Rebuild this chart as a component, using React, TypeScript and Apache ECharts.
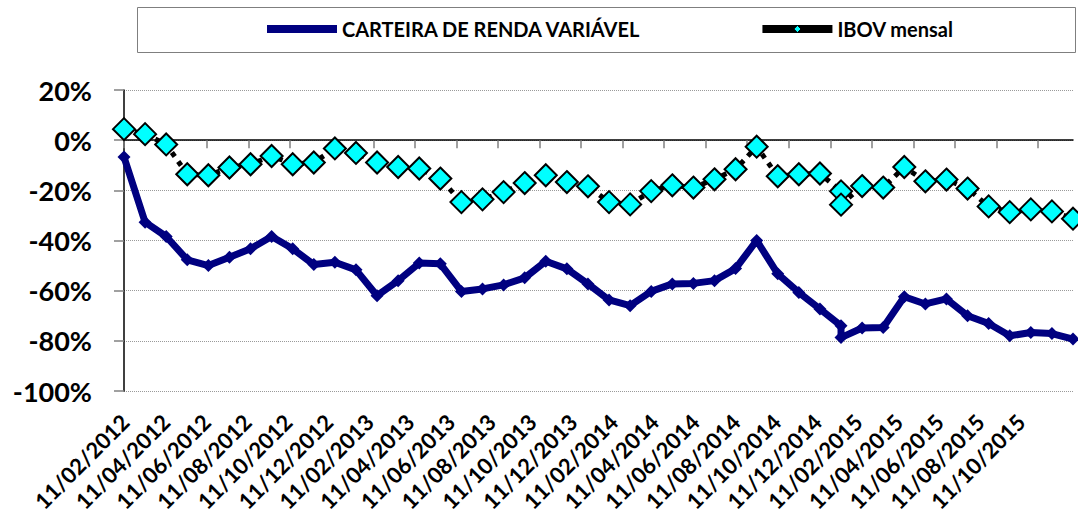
import React, { useEffect, useRef } from "react";
import * as echarts from "echarts";

// Monthly slots on the date axis: 02/2012 … 11/2015
const months: string[] = Array.from({ length: 46 }, (_, i) => {
  const m = ((1 + i) % 12) + 1;
  const y = 2012 + Math.floor((1 + i) / 12);
  return `${String(m).padStart(2, "0")}/${y}`;
});

// Month of each observation (December 2014 holds two observations)
const obsMonth: string[] = [...months.slice(0, 35), months[34], ...months.slice(35)];

const carteira: number[] = [
  -6.7, -32.7, -38.4, -47.7, -50.0, -46.7, -43.3, -38.4, -43.3, -49.6,
  -48.7, -51.7, -62.0, -56.0, -49.0, -49.3, -60.3, -59.3, -57.7, -54.9,
  -48.3, -51.3, -57.3, -63.7, -66.0, -60.3, -57.3, -57.1, -56.0, -51.2,
  -40.0, -53.3, -60.7, -67.3, -74.0, -78.7, -74.9, -74.7, -62.4, -65.3,
  -63.3, -70.0, -73.1, -78.0, -76.7, -77.1, -79.3,
];

const ibov: number[] = [
  4.4, 2.4, -1.7, -13.6, -14.0, -10.9, -9.6, -6.3, -9.6, -8.9,
  -3.3, -5.1, -8.9, -10.7, -11.3, -15.3, -24.7, -23.6, -20.7, -17.1,
  -14.0, -16.7, -18.4, -24.7, -25.6, -20.3, -18.0, -18.9, -15.6, -11.6,
  -2.6, -14.4, -13.6, -13.3, -20.4, -25.7, -18.3, -18.9, -10.7, -16.4,
  -15.7, -19.3, -26.4, -28.7, -27.6, -28.4, -31.3,
];

const tickLabels: string[] = [
  "11/02/2012", "11/04/2012", "11/06/2012", "11/08/2012", "11/10/2012", "11/12/2012",
  "11/02/2013", "11/04/2013", "11/06/2013", "11/08/2013", "11/10/2013", "11/12/2013",
  "11/02/2014", "11/04/2014", "11/06/2014", "11/08/2014", "11/10/2014", "11/12/2014",
  "11/02/2015", "11/04/2015", "11/06/2015", "11/08/2015", "11/10/2015",
];

const seriesNames = ["CARTEIRA DE RENDA VARIÁVEL", "IBOV mensal"];

const FONT = "Lato";

export default function App() {
  const ref = useRef<HTMLDivElement>(null);

  useEffect(() => {
    if (!ref.current) return;
    const chart = echarts.init(ref.current, undefined, { renderer: "svg" });
    const tickIdx = tickLabels.map((_, i) => i);

    chart.setOption({
      animation: false,
      backgroundColor: "#ffffff",
      grid: {
        left: 124,
        right: 5,
        top: 90,
        bottom: 123,
        containLabel: false,
        outerBoundsMode: "none",
      },
      graphic: [
        {
          type: "rect",
          shape: { x: 137.5, y: 7.5, width: 938, height: 45 },
          style: { fill: "#ffffff", stroke: "#7f7f7f", lineWidth: 1 },
          z: -1,
        },
      ],
      legend: {
        data: [
          {
            name: seriesNames[0],
            lineStyle: { width: 8, type: "solid" },
          },
          {
            name: seriesNames[1],
            itemStyle: { borderWidth: 1 },
            lineStyle: { width: 8, type: "solid", color: "#000" },
          },
        ],
        left: 263,
        top: 19,
        padding: 0,
        itemWidth: 70,
        itemHeight: 9,
        itemGap: 117,
        textStyle: { fontFamily: FONT, fontWeight: "bold", fontSize: 20, color: "#000" },
      },
      xAxis: [
        {
          type: "category",
          data: months,
          boundaryGap: false,
          show: false,
          axisLine: { onZero: false },
        },
        {
          type: "value",
          min: 0,
          max: 22.84,
          position: "bottom",
          axisLine: { show: true, onZero: true, lineStyle: { color: "#000", width: 1.5 } },
          axisTick: {
            show: true,
            length: 8,
            customValues: tickIdx,
            lineStyle: { color: "#808080", width: 1.5 },
          },
          axisLabel: { show: false },
          splitLine: { show: false },
        },
        {
          type: "value",
          min: -0.025,
          max: 23.275,
          position: "bottom",
          axisLine: { show: false, onZero: false },
          axisTick: { show: false },
          splitLine: { show: false },
          axisLabel: {
            show: true,
            customValues: tickIdx,
            formatter: (v: number) => tickLabels[Math.round(v)] ?? "",
            rotate: 45,
            margin: 27,
            fontFamily: FONT,
            fontWeight: "bold",
            fontSize: 22,
            color: "#000",
          },
        },
      ],
      yAxis: {
        type: "value",
        min: -100,
        max: 20,
        interval: 20,
        axisLine: { show: true, onZero: false, lineStyle: { color: "#000", width: 1.5 } },
        axisTick: { show: true, length: 10, lineStyle: { color: "#808080", width: 1.5 } },
        axisLabel: {
          formatter: (v: number) => `${v}%`,
          margin: 32,
          fontFamily: FONT,
          fontWeight: "bold",
          fontSize: 27,
          color: "#000",
        },
        splitLine: { show: true, lineStyle: { color: "#9a9a9a", type: "dotted", width: 1 } },
      },
      series: [
        {
          name: seriesNames[0],
          type: "line",
          xAxisIndex: 0,
          data: obsMonth.map((m, i) => [m, carteira[i]]),
          symbol: "diamond",
          symbolSize: 13,
          showAllSymbol: true,
          lineStyle: { color: "#000080", width: 7 },
          itemStyle: { color: "#000080" },
          z: 2,
        },
        {
          name: seriesNames[1],
          type: "line",
          xAxisIndex: 0,
          data: obsMonth.map((m, i) => [m, ibov[i]]),
          symbol: "diamond",
          symbolSize: 22,
          showAllSymbol: true,
          lineStyle: { color: "#000000", width: 5, type: [5, 6] },
          itemStyle: { color: "#00ffff", borderColor: "#000000", borderWidth: 2 },
          z: 3,
        },
      ],
    });

    return () => chart.dispose();
  }, []);

  return (
    <div
      ref={ref}
      style={{ position: "fixed", left: 0, top: 0, width: 1078, height: 514 }}
    />
  );
}
